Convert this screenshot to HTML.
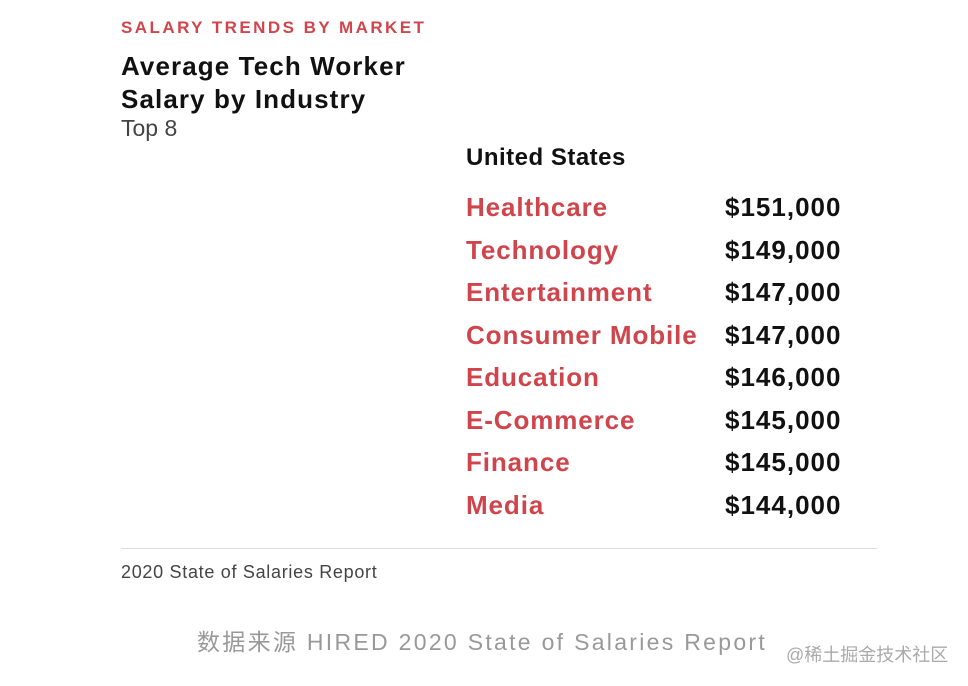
<!DOCTYPE html>
<html><head><meta charset="utf-8"><style>
body{margin:0;width:968px;height:686px;background:#fff;position:relative;overflow:hidden;font-family:"Liberation Sans","Noto Sans CJK SC",sans-serif}
.a{position:absolute;white-space:nowrap;line-height:1}
</style></head><body>
<div class="a" style="left:121px;top:19px;font-size:17px;letter-spacing:2.45px;color:#d0454c;font-weight:bold">SALARY TRENDS BY MARKET</div>
<div class="a" style="left:121px;top:50px;font-size:26px;color:#111;line-height:33px;font-weight:bold;letter-spacing:1.1px">Average Tech Worker<br>Salary by Industry</div>
<div class="a" style="left:121px;top:117px;font-size:23px;color:#444">Top 8</div>
<div class="a" style="left:466px;top:146px;font-size:24px;color:#111;font-weight:bold;letter-spacing:0.5px">United States</div>
<div id="tbl"></div>
<div class="a" style="left:121px;top:548px;width:756px;height:1px;background:#ddd"></div>
<div class="a" style="left:121px;top:563px;font-size:18px;color:#444;letter-spacing:0.7px">2020 State of Salaries Report</div>
<div class="a" style="left:197px;top:631px;font-size:23px;color:#999;letter-spacing:2.3px">数据来源 HIRED 2020 State of Salaries Report</div>
<div class="a" style="left:786px;top:646px;font-size:18px;color:#aaa">@稀土掘金技术社区</div>
<script>
const industries=["Healthcare","Technology","Entertainment","Consumer Mobile","Education","E-Commerce","Finance","Media"];
const salaries=[151000,149000,147000,147000,146000,145000,145000,144000];
const tbl=document.getElementById('tbl');
industries.forEach((n,i)=>{
  const y=194+i*42.5;
  const a=document.createElement('div');
  a.className='a';a.textContent=n;
  a.style.cssText=`left:466px;top:${y}px;font-size:26px;color:#d0454c;font-weight:bold;letter-spacing:0.9px`;
  
  
  tbl.appendChild(a);
  const b=document.createElement('div');
  b.className='a';b.textContent='$'+salaries[i].toLocaleString('en-US');
  b.style.cssText=`left:725px;top:${y}px;font-size:26px;color:#111;font-weight:bold;letter-spacing:1px`;
  
  
  tbl.appendChild(b);
});
</script>
</body></html>
